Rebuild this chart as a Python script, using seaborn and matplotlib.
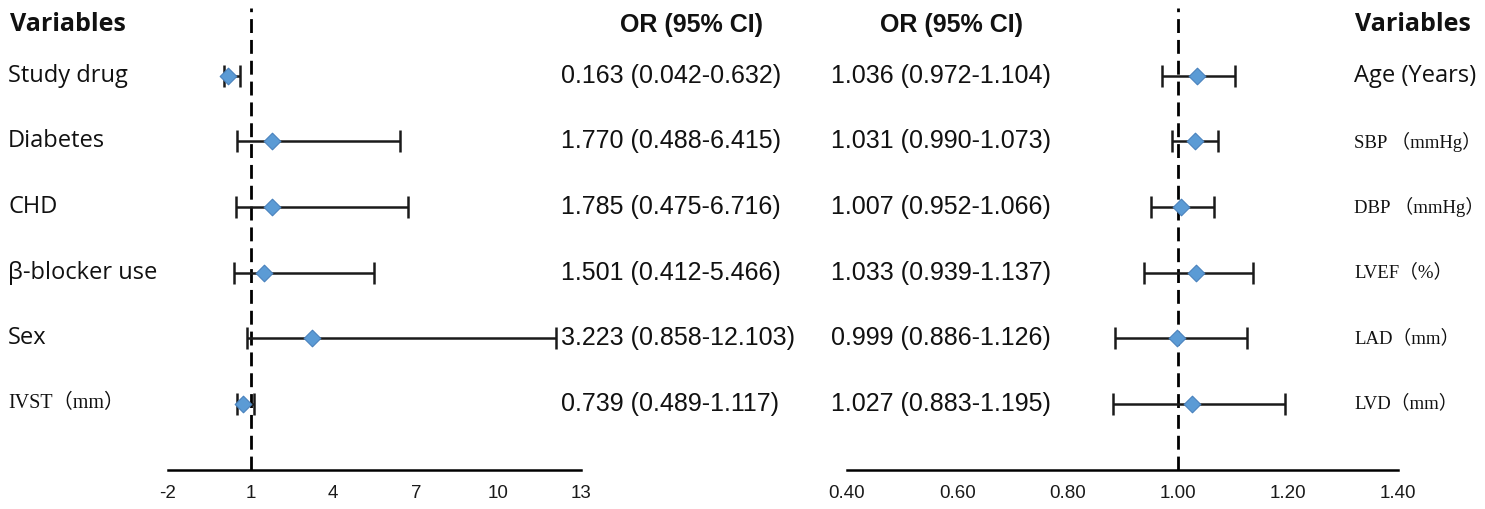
import matplotlib
matplotlib.use("Agg")
import matplotlib.pyplot as plt
import matplotlib.transforms as mtransforms
import pandas as pd
import seaborn as sns

# left panel
left_vars = ["Study drug", "Diabetes", "CHD", "β-blocker use", "Sex", "IVST（mm）"]
left_or = [0.163, 1.770, 1.785, 1.501, 3.223, 0.739]
left_lo = [0.042, 0.488, 0.475, 0.412, 0.858, 0.489]
left_hi = [0.632, 6.415, 6.716, 5.466, 12.103, 1.117]
left_ticks = [-2, 1, 4, 7, 10, 13]

# right panel
right_vars = ["Age (Years)", "SBP （mmHg）", "DBP （mmHg）", "LVEF（%）", "LAD（mm）", "LVD（mm）"]
right_or = [1.036, 1.031, 1.007, 1.033, 0.999, 1.027]
right_lo = [0.972, 0.990, 0.952, 0.939, 0.886, 0.883]
right_hi = [1.104, 1.073, 1.066, 1.137, 1.126, 1.195]
right_ticks = [0.40, 0.60, 0.80, 1.00, 1.20, 1.40]

serif_labels = ["IVST（mm）", "SBP （mmHg）", "DBP （mmHg）", "LVEF（%）", "LAD（mm）", "LVD（mm）"]

sns.set_theme(style="white")
plt.rcParams["font.family"] = ["Liberation Sans", "Noto Sans CJK SC", "DejaVu Sans"]

SANS = ["Open Sans", "Noto Sans CJK SC", "DejaVu Sans"]
SERIF = ["Liberation Serif", "Noto Sans CJK SC", "DejaVu Serif"]
NUM = ["Liberation Sans", "DejaVu Sans"]
INK = "#111111"

W, H = 1485, 509
fig = plt.figure(figsize=(W / 100, H / 100), dpi=100)
ax1 = fig.add_axes([168 / W, 39 / H, 413 / W, 462 / H])
ax2 = fig.add_axes([847 / W, 39 / H, 551 / W, 462 / H])


def forest(ax, ors, lo, hi, xlim, ticks, labels):
    df = pd.DataFrame({"row": range(len(ors)), "or": ors, "lo": lo, "hi": hi})
    ax.errorbar(df["or"], df["row"],
                xerr=[df["or"] - df["lo"], df["hi"] - df["or"]],
                fmt="none", ecolor="#1a1a1a", elinewidth=1.8,
                capsize=8, capthick=1.8, zorder=2)
    sns.scatterplot(data=df, x="or", y="row", marker="D", s=72,
                    color="#5b9bd5", edgecolor="#4a82bd", linewidth=0.8,
                    zorder=3, ax=ax, legend=False)
    ax.axvline(1, color="black", lw=2, linestyle=(0, (5, 2.5)), zorder=1)
    ax.set_xlim(*xlim)
    ax.set_ylim(6.015, -1.038)
    ax.set_xticks(ticks)
    ax.set_xticklabels(labels, fontsize=13.5, family=NUM)
    ax.set_yticks([])
    ax.tick_params(axis="x", length=0, pad=11, colors="#1a1a1a")
    ax.set_xlabel("")
    ax.set_ylabel("")
    for s in ["top", "left", "right"]:
        ax.spines[s].set_visible(False)
    ax.spines["bottom"].set_color("black")
    ax.spines["bottom"].set_linewidth(1.8)
    ax.patch.set_alpha(0)


forest(ax1, left_or, left_lo, left_hi, (-2, 13), left_ticks,
       [str(t) for t in left_ticks])
forest(ax2, right_or, right_lo, right_hi, (0.4, 1.4), right_ticks,
       [f"{t:.2f}" for t in right_ticks])

tr = mtransforms.blended_transform_factory(fig.transFigure, ax1.transData)
hdr_y = -0.78

fig.text(10 / W, hdr_y, "Variables", transform=tr, fontsize=18, color=INK,
         fontweight="bold", family=SANS, va="center", ha="left")
fig.text(1355 / W, hdr_y, "Variables", transform=tr, fontsize=18, color=INK,
         fontweight="bold", family=SANS, va="center", ha="left")
fig.text(692 / W, hdr_y, "OR (95% CI)", transform=tr, fontsize=18, color=INK,
         fontweight="bold", family=NUM, va="center", ha="center")
fig.text(952 / W, hdr_y, "OR (95% CI)", transform=tr, fontsize=18, color=INK,
         fontweight="bold", family=NUM, va="center", ha="center")

for i in range(len(left_vars)):
    fam, fs = (SERIF, 14.5) if left_vars[i] in serif_labels else (SANS, 17)
    fig.text(8 / W, i, left_vars[i], transform=tr, fontsize=fs,
             family=fam, va="center", ha="left", color=INK)
    fig.text(561 / W, i, f"{left_or[i]:.3f} ({left_lo[i]:.3f}-{left_hi[i]:.3f})",
             transform=tr, fontsize=18, family=NUM, va="center", ha="left",
             color=INK)
    fig.text(831 / W, i, f"{right_or[i]:.3f} ({right_lo[i]:.3f}-{right_hi[i]:.3f})",
             transform=tr, fontsize=18, family=NUM, va="center", ha="left",
             color=INK)
    # right-hand labels sit close to the edge, keep serif ones a touch smaller
    fam, fs = (SERIF, 13.5) if right_vars[i] in serif_labels else (SANS, 17)
    fig.text(1354 / W, i, right_vars[i], transform=tr, fontsize=fs,
             family=fam, va="center", ha="left", color=INK)

fig.savefig("out.png", dpi=100, facecolor="white")
